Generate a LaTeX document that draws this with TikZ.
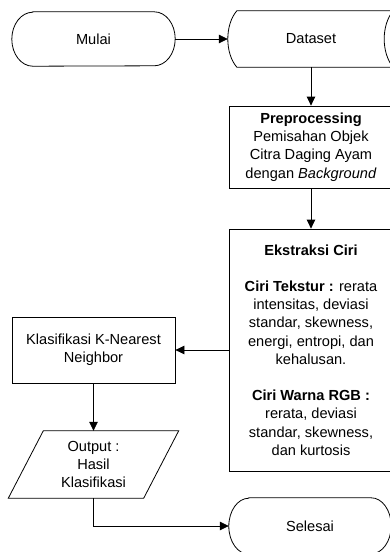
\documentclass[tikz,border=0pt]{standalone}
\usepackage{fontspec}
\setmainfont{Liberation Sans}
\usetikzlibrary{arrows.meta}
\begin{document}
\begin{tikzpicture}[x=1pt,y=1pt,
  every node/.style={font=\fontsize{14.6}{18.2}\selectfont, inner sep=0pt, align=center},
  ln/.style={line width=0.8pt, draw=black},
  box/.style={ln, rectangle},
  arr/.style={line width=0.8pt, -{Triangle[length=9pt,width=8.5pt]}}]
\useasboundingbox (0,0) rectangle (389,-552);
\fill[white] (0,0) rectangle (389,-552);

% nodes
\node (mulai) [minimum width=163pt, minimum height=54pt] at (93.5,-39) {Mulai};
\node (dataset) [minimum width=164pt, minimum height=56pt] at (311,-39) {Dataset};
\node (pre) [box, minimum width=164pt, minimum height=82pt] at (311,-147)
  {\textbf{Preprocessing}\\Pemisahan Objek\\Citra Daging Ayam\\dengan \textit{Background}};
\node (eks) [box, minimum width=164pt, minimum height=242pt] at (311,-350)
  {\textbf{Ekstraksi Ciri}\\[18.2pt]\textbf{Ciri Tekstur :} rerata\\intensitas, deviasi\\standar, skewness,\\energi, entropi, dan\\kehalusan.\\[18.2pt]\textbf{Ciri Warna RGB :}\\rerata, deviasi\\standar, skewness,\\dan kurtosis};
\node (knn) [box, minimum width=163pt, minimum height=66pt] at (93.5,-350)
  {Klasifikasi K-Nearest\\Neighbor};
\node (output) [minimum width=135pt, minimum height=67pt] at (93.5,-464.5)
  {Output :\\Hasil\\Klasifikasi};
\node (selesai) [minimum width=162pt, minimum height=56pt] at (310,-526) {Selesai};

% outlines
\draw[ln] ([xshift=21pt]mulai.north west) -- ([xshift=-21pt]mulai.north east)
  arc[start angle=90, end angle=-90, x radius=21pt, y radius=27pt]
  -- ([xshift=21pt]mulai.south west)
  arc[start angle=270, end angle=90, x radius=21pt, y radius=27pt] -- cycle;
\draw[ln] ([xshift=20pt]selesai.north west) -- ([xshift=-20pt]selesai.north east)
  arc[start angle=90, end angle=-90, x radius=20pt, y radius=28pt]
  -- ([xshift=20pt]selesai.south west)
  arc[start angle=270, end angle=90, x radius=20pt, y radius=28pt] -- cycle;
\draw[ln] ([xshift=8pt]dataset.north west) -- (dataset.north east)
  .. controls ([xshift=-12pt,yshift=-14pt]dataset.north east) and ([xshift=-12pt,yshift=14pt]dataset.south east) .. (dataset.south east)
  -- ([xshift=8pt]dataset.south west)
  .. controls ([xshift=-4pt,yshift=14pt]dataset.south west) and ([xshift=-4pt,yshift=-14pt]dataset.north west) .. ([xshift=8pt]dataset.north west) -- cycle;
\draw[ln] ([xshift=17.5pt]output.north west) -- ([xshift=17.5pt]output.north east)
  -- ([xshift=-17.5pt]output.south east) -- ([xshift=-17.5pt]output.south west) -- cycle;

% connectors
\draw[arr] (mulai.east) -- ([xshift=-1pt]dataset.west);
\draw[arr] (dataset) -- (pre);
\draw[arr] (pre) -- (eks);
\draw[arr] (eks) -- (knn);
\draw[arr] (knn) -- (output);
\draw[arr] (output.south) |- (selesai.west);
\end{tikzpicture}
\end{document}
